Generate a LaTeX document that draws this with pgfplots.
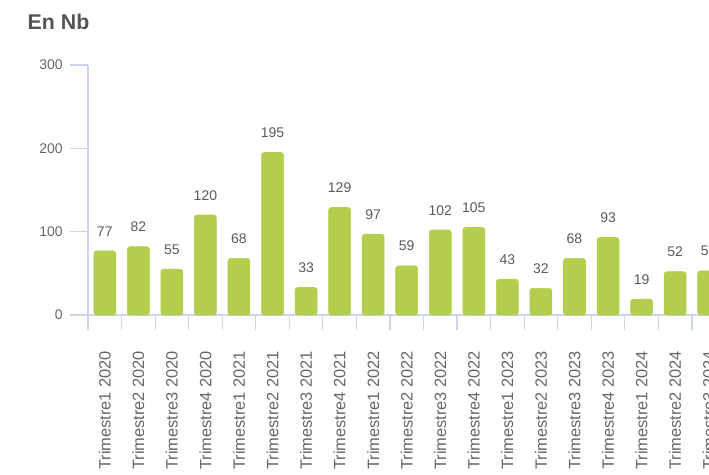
\documentclass[border=0pt]{standalone}
\usepackage{fontspec}
\setmainfont{Liberation Sans}
\usepackage{pgfplots}
\pgfplotsset{compat=1.18}
\definecolor{barcol}{RGB}{179,205,76}
\definecolor{axiscol}{RGB}{204,214,235}
\definecolor{labcol}{RGB}{102,102,102}
\definecolor{valcol}{RGB}{90,90,90}
\definecolor{titlecol}{RGB}{85,85,85}

\begin{document}
\begin{tikzpicture}
% 1px = 0.75pt; picture is 709x474 px, chart cut off on the right
\path[use as bounding box, clip] (0,0) rectangle (531.75pt,-355.5pt);
\begin{axis}[
    at={(66pt,-236.25pt)}, anchor=south west,
    scale only axis,
    width=478.09pt, height=187.5pt,
    xmin=0, xmax=19, ymin=0, ymax=300,
    axis x line=bottom, axis y line=left,
    axis line style={draw=axiscol, line width=0.9pt, -},
    tick align=outside,
    ytick={0,100,200,300},
    major tick length=13.5pt,
    minor tick length=11.25pt,
    tick style={draw=axiscol, line width=0.9pt},
    major x tick style={draw=none},
    minor xtick={0,1,...,19},
    xtick={0.5,1.5,...,18.5},
    xticklabels={Trimestre1 2020,Trimestre2 2020,Trimestre3 2020,Trimestre4 2020,
      Trimestre1 2021,Trimestre2 2021,Trimestre3 2021,Trimestre4 2021,
      Trimestre1 2022,Trimestre2 2022,Trimestre3 2022,Trimestre4 2022,
      Trimestre1 2023,Trimestre2 2023,Trimestre3 2023,Trimestre4 2023,
      Trimestre1 2024,Trimestre2 2024,Trimestre3 2024},
    xticklabel style={rotate=90, anchor=east, font=\fontsize{12.3}{14}\selectfont, text=labcol},
    xticklabel shift=10pt,
    yticklabel style={font=\fontsize{10.5}{12}\selectfont, text=labcol, xshift=-2pt},
    /pgf/number format/assume math mode=true,
    title={En Nb},
    title style={at={(axis description cs:-0.102,1.112)}, anchor=base west, yshift=0pt,
      font=\bfseries\fontsize{16}{19}\selectfont, text=titlecol},
    ybar, bar width=16.5pt,
    nodes near coords,
    nodes near coords style={font=\fontsize{10.5}{12}\selectfont, text=valcol, anchor=south, yshift=7.5pt},
    clip=false,
]
\addplot[fill=barcol, draw=barcol, rounded corners=2pt] coordinates {
  (0.5,77) (1.5,82) (2.5,55) (3.5,120) (4.5,68) (5.5,195) (6.5,33) (7.5,129)
  (8.5,97) (9.5,59) (10.5,102) (11.5,105) (12.5,43) (13.5,32) (14.5,68)
  (15.5,93) (16.5,19) (17.5,52) (18.5,53)};
\end{axis}
\end{tikzpicture}
\end{document}
